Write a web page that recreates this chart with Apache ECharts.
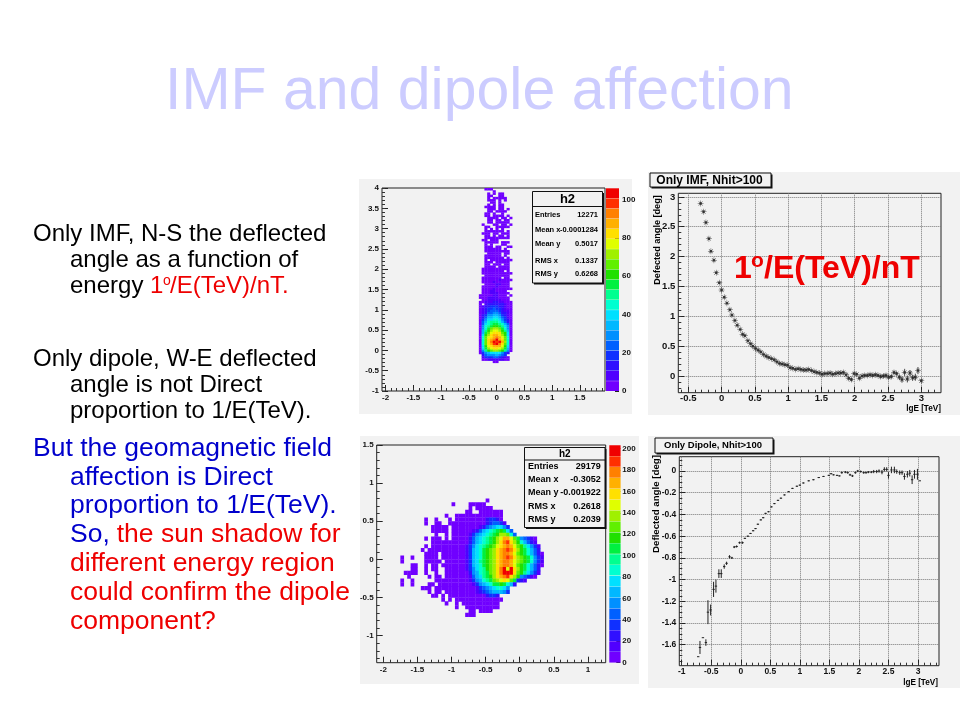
<!DOCTYPE html>
<html><head><meta charset="utf-8">
<style>html,body{margin:0;padding:0;background:#fff}#c{width:960px;height:720px}</style>
<script src="https://cdn.jsdelivr.net/npm/echarts@6/dist/echarts.min.js"></script>
</head><body><div id="c"></div>
<script>
// ---------- data ----------
const palette = ['#7000ff','#5000ff','#3010ff','#1030ff','#0060ff','#0090ff','#00b8ff','#00e0ff','#00ffd0','#00ff90',
                 '#00f040','#20e000','#60f000','#a0f000','#e0ff00','#ffe000','#ffb000','#ff8000','#ff3000','#f00000'];
// colour-level rows, top to bottom: '.' = empty, 0-9,a-j = level 0..19
const imfMapRows = [
"..000.......",".....0......","...0.0.00...","...00..00...","...0.00000..","...000.0.0..","....00.0....","...0.0.00...",
"..0000.00...","...000.00.0.","...00.0000..","..00.0..0...","..00.0000.0.","...0000.00.0","...00.00.00.","...00.00000.",
".0...00.00.0","..00..00000.","..0.0.0.0...","..0000000.0.",".000.00.000.","..00.0.00.0.","..000000000.",".00.000.....",
"..00000.000.","..0.0...00..","..000.00..00","..000000.0..","..000000000.","...00000.00.","..000000.0..","..0000000.0.",
"..0.00000000","..000.00000.","..00.000.00.","..0000.0000.",".0000000000.",".00000000.0.",".00000000000","..000000000.",
".0000000.00.",".00000010000",".0000100000.","..000011000.",".0000010000.",".00001000000",".000110000..",".0001110000.",
"0000011000.0","00011110000.",".0011111000.","001112211000","0.1222222100","012233322100","012334332100",
"012344432110","012445542210","023556653210","024667764310","035778875320","046899986420","04789aa98640",
"0589abba9750","058acddca850","069bdeedb960","06acefffcb70","07bdfggfdb70","08cefghgec80","08cfghjgfc80",
"08cfhjijgd80","08cfgijhfc80","07befgggeb70","07adeffeda60","059bcddcb950",
"03567777532.",".245556543..",".1333443210.",".0011111100.",".....00....."
];
const imfMapFirstRowTop = 4.0, imfMapLeft = -0.32, imfMapBinX = 0.05, imfMapBinY = 0.0545;

const dipoleMapRows = [
".........................0",
"...............0....00000",
"....................0.00000",
"...................00..0000000",
".............0..00000000000000",
".......0..0...0.00000000023320",
".......0..00..00000000000234431",
".........00000.00000000124567753",
".........00000.000000124678 9ab a74".replace(/ /g,''),
"..........0..0.00000135678 9abddc84".replace(/ /g,''),
".......0.000.0.00000246789ab" + "deggeca5 43 10".replace(/ /g,''),
".........00000000000246789ab" + "dfhifdb86421",
".......0.0000000000135789abc" + "efghgecb97531",
"......0.0000000000013678abcd" + "fghihfdba8642",
".......0000.000000013678abcd" + "fghhgecba86420",
"0..0...0000.000000013678abcd" + "fghihfdcba8531",
"0......00000.00000013679abcd" + "fghhgedcba8531",
"...00..0.00.000000013678abcd" + "fghhgecba86420",
"...00..0.00..00000013578 9bcd".replace(' ','') + "fhjejfdba8642",
".0000..0..0..00000002568 9acd".replace(' ','') + "fhjjjfcb97531",
"..0.....0.00.00000001467 9abd".replace(' ','') + "fghifdb54310",
"0..0......000000000013568 9acd".replace(' ','') + "efeca321",
"0..0....00.000000000013567 8aaba862".replace(' ',''),
"......000.000000000000134567887 5".replace(' ',''),
"........0.00.000000000123456665 3".replace(' ',''),
".........00.0.000000000002332",
"............0.0.00000000000000",
".............0..0.00000000000",
"................0..0000000000",
"....................00.0000",
"...................000"
];
const dipoleMapFirstRowTop = 0.8, dipoleMapLeft = -1.75, dipoleMapBin = 0.05;

const imfE = [-.315,-.27,-.235,-.19,-.16,-.115,-.08,-.035,0,.04,.08,.125,.155,.2,.235,.28,.315,.35,.395,.435,.47,.51,.55,.59,.63,.67,.71,.75,.79,.83,.87,.91,.95,.99,1.03,1.07,1.11,1.15,1.19,1.23,1.27,1.31,1.35,1.39,1.43,1.47,1.51,1.55,1.59,1.63,1.67,1.71,1.75,1.79,1.83,1.87,1.91,1.95,1.99,2.03,2.07,2.11,2.15,2.19,2.23,2.27,2.31,2.35,2.39,2.43,2.47,2.51,2.55,2.59,2.63,2.67,2.71,2.75,2.79,2.83,2.87,2.91,2.95,3.0];
const imfAngle = [2.89,2.75,2.57,2.30,2.09,1.94,1.73,1.56,1.44,1.32,1.22,1.11,1.02,.93,.85,.78,.70,.675,.59,.54,.50,.46,.43,.40,.36,.33,.31,.29,.27,.24,.21,.20,.19,.18,.14,.13,.11,.12,.11,.10,.10,.11,.09,.07,.06,.05,.03,.04,.04,.05,.03,.04,.05,.05,.06,.02,-.04,-.06,.04,.03,-.04,0,.01,.01,.02,.01,.02,.01,-.01,0,.01,-.02,-.01,.06,.04,-.02,-.06,.06,-.05,.05,-.03,-.02,.09,-.08];
const imfErr = [.02,.02,.02,.02,.02,.02,.02,.02,.02,.02,.01,.01,.01,.01,.01,.01,.01,.01,.01,.01,.01,.01,.01,.01,.01,.01,.01,.01,.01,.01,.01,.01,.01,.01,.01,.01,.01,.01,.01,.01,.01,.01,.01,.01,.01,.01,.01,.01,.01,.01,.01,.01,.01,.015,.015,.015,.02,.03,.02,.02,.02,.02,.02,.02,.02,.02,.02,.02,.03,.03,.03,.03,.03,.03,.03,.04,.05,.06,.06,.05,.05,.06,.06,.03];

const dipE = [-.72,-.69,-.64,-.59,-.555,-.51,-.46,-.42,-.37,-.33,-.28,-.24,-.19,-.15,-.11,-.07,-.02,.03,.07,.12,.165,.21,.25,.29,.34,.38,.42,.47,.52,.57,.63,.68,.74,.81,.875,.95,1.0,1.06,1.15,1.23,1.32,1.40,1.49,1.53,1.57,1.63,1.67,1.71,1.77,1.81,1.85,1.89,1.94,1.98,2.03,2.08,2.12,2.16,2.21,2.25,2.30,2.34,2.39,2.43,2.47,2.50,2.55,2.60,2.64,2.69,2.73,2.77,2.82,2.86,2.90,2.94,2.99,3.03];
const dipAngle = [-1.71,-1.625,-1.535,-1.58,-1.30,-1.28,-1.09,-1.06,-.945,-.945,-.88,-.85,-.79,-.80,-.70,-.695,-.66,-.66,-.62,-.60,-.575,-.55,-.53,-.49,-.45,-.43,-.39,-.375,-.33,-.30,-.27,-.25,-.22,-.19,-.16,-.14,-.13,-.11,-.09,-.08,-.06,-.05,-.04,-.025,-.035,-.04,-.045,-.015,-.01,-.015,-.035,-.045,-.015,0,-.005,-.015,-.015,-.01,-.01,-.005,-.005,0,-.01,.015,.015,-.04,.01,.01,-.005,-.015,-.015,-.05,-.03,-.02,-.08,-.03,-.03,-.09];
const dipErr = [0,.06,0,.03,.11,.05,.07,.06,.04,.04,.02,.015,.015,.01,.01,.01,.01,.01,.005,.005,.005,.005,.005,.005,.005,.005,.005,.005,.005,.005,.005,.005,.005,.005,.005,.005,.005,.005,.005,.005,.005,.005,.005,.005,.005,.005,.005,.01,.01,.01,.01,.01,.01,.01,.01,.01,.01,.01,.01,.015,.015,.015,.02,.02,.02,.03,.03,.03,.02,.02,.02,.03,.03,.03,.04,.04,.05,0];

const barATicks = [0,20,40,60,80,100], barAMax = 106;
const barCTicks = [0,20,40,60,80,100,120,140,160,180,200], barCMax = 203.4;
const statsA = [['Entries','12271'],['Mean x','-0.0001284'],['Mean y','0.5017'],['RMS x','0.1337'],['RMS y','0.6268']];
const statsC = [['Entries','29179'],['Mean x','-0.3052'],['Mean y','-0.001922'],['RMS x','0.2618'],['RMS y','0.2039']];
const ticksAx = [-2,-1.5,-1,-.5,0,.5,1,1.5], ticksAy = [-1,-.5,0,.5,1,1.5,2,2.5,3,3.5,4];
const ticksBx = [-.5,0,.5,1,1.5,2,2.5,3], ticksBy = [0,.5,1,1.5,2,2.5,3];
const ticksCx = [-2,-1.5,-1,-.5,0,.5,1], ticksCy = [-1,-.5,0,.5,1,1.5];
const ticksDx = [-1,-.5,0,.5,1,1.5,2,2.5,3], ticksDy = [-1.6,-1.4,-1.2,-1,-.8,-.6,-.4,-.2,0];

// ---------- helpers ----------
const FF = '"Liberation Sans", Arial, sans-serif';
function rowsToCells(rows, top, left, bx, by){
  const out=[];
  rows.forEach((r,ri)=>{ for(let i=0;i<r.length;i++){ if(r[i]==='.')continue;
    const lv=parseInt(r[i],20);
    out.push([left+i*bx, top-ri*by, left+(i+1)*bx, top-(ri+1)*by, lv]); } });
  return out;
}
function minors(lo,hi,step){const o=[];for(let v=Math.ceil(lo/step);v*step<=hi;v++)o.push(+(v*step).toFixed(4));return o;}
const grids=[],xAxes=[],yAxes=[],series=[];
function addGrid(box){
  grids.push({left:box.l,top:box.t,width:box.r-box.l,height:box.b-box.t,show:true,backgroundColor:'transparent',borderColor:'#222',borderWidth:1,containLabel:false});
  return grids.length-1;
}
function addAxes(g,a){
  const lab=(fs,m)=>({fontFamily:FF,fontWeight:'bold',fontSize:fs,color:'#111',margin:m});
  const xi=xAxes.length, yi=yAxes.length;
  xAxes.push({gridIndex:g,type:'value',position:'bottom',min:a.x[0],max:a.x[1],
    axisLine:{show:false,onZero:false},
    axisTick:{show:true,inside:true,length:a.tickX||6,customValues:a.xt,lineStyle:{color:'#222'}},
    axisLabel:Object.assign(lab(a.fs,a.mx),{customValues:a.xt,showMinLabel:true,showMaxLabel:true,hideOverlap:false}),
    splitLine:{show:!!a.grid,lineStyle:{color:'#777',type:'dotted',width:1}}});
  yAxes.push({gridIndex:g,type:'value',position:'left',min:a.y[0],max:a.y[1],
    axisLine:{show:false,onZero:false},
    axisTick:{show:true,inside:true,length:a.tickY||6,customValues:a.yt,lineStyle:{color:'#222'}},
    axisLabel:Object.assign(lab(a.fs,a.my),{customValues:a.yt,showMinLabel:true,showMaxLabel:true,hideOverlap:false}),
    splitLine:{show:!!a.grid,lineStyle:{color:'#777',type:'dotted',width:1}}});
  xAxes.push({gridIndex:g,type:'value',position:'bottom',min:a.x[0],max:a.x[1],axisLine:{show:false,onZero:false},
    axisTick:{show:true,inside:true,length:3,customValues:minors(a.x[0],a.x[1],a.mxs),lineStyle:{color:'#333'}},axisLabel:{show:false},splitLine:{show:false}});
  yAxes.push({gridIndex:g,type:'value',position:'left',min:a.y[0],max:a.y[1],axisLine:{show:false,onZero:false},
    axisTick:{show:true,inside:true,length:3,customValues:minors(a.y[0],a.y[1],a.mys),lineStyle:{color:'#333'}},axisLabel:{show:false},splitLine:{show:false}});
  return [xi,yi];
}
function rectSeries(xi,yi,cells){
  series.push({type:'custom',xAxisIndex:xi,yAxisIndex:yi,silent:true,animation:false,z:3,clip:true,
    encode:{x:[0,2],y:[1,3]},data:cells,
    renderItem(p,api){
      const a=api.coord([api.value(0),api.value(1)]), b=api.coord([api.value(2),api.value(3)]);
      return {type:'rect',shape:{x:a[0],y:a[1],width:b[0]-a[0]+.3,height:b[1]-a[1]+.3},style:{fill:palette[api.value(4)]}};
    }});
}
function colorBar(box,max,ticks,fs,m){
  const g=addGrid(box); grids[g].borderWidth=0;
  const xi=xAxes.length, yi=yAxes.length;
  xAxes.push({gridIndex:g,type:'value',min:0,max:1,show:false});
  yAxes.push({gridIndex:g,type:'value',position:'right',min:0,max:max,
    axisLine:{show:false,onZero:false},
    axisTick:{show:true,inside:true,length:4,customValues:ticks,lineStyle:{color:'#222'}},
    axisLabel:{customValues:ticks,fontFamily:FF,fontWeight:'bold',fontSize:fs,color:'#111',margin:m,showMinLabel:true,showMaxLabel:true,hideOverlap:false},
    splitLine:{show:false}});
  const cells=palette.map((c,i)=>[0,i*max/20,1,(i+1)*max/20,i]);
  rectSeries(xi,yi,cells);
}
function errSeries(xi,yi,xs,ys,es,hw,col){
  series.push({type:'custom',xAxisIndex:xi,yAxisIndex:yi,silent:true,animation:false,z:4,
    encode:{x:0,y:1},data:xs.map((x,i)=>[x,ys[i],es[i]]),
    renderItem(p,api){
      const x=api.value(0),y=api.value(1),e=api.value(2);
      const c=api.coord([x,y]),u=api.coord([x,y+e]),d=api.coord([x,y-e]),l=api.coord([x-hw,y]),r=api.coord([x+hw,y]);
      const st={stroke:col,lineWidth:1};
      return {type:'group',children:[
        {type:'line',shape:{x1:l[0],y1:c[1],x2:r[0],y2:c[1]},style:st},
        {type:'line',shape:{x1:c[0],y1:u[1],x2:c[0],y2:d[1]},style:st}]};
    }});
}
const gfx=[];
function T(x,y,text,o){o=o||{};gfx.push({type:'text',x,y,z:o.z||60,rotation:o.rot||0,silent:true,
  style:{text,fill:o.c||'#000',fontFamily:FF,fontSize:o.s||20,fontWeight:o.w||'normal',align:o.a||'left',verticalAlign:o.v||'middle'}});}
function R(x,y,w,h,o){gfx.push({type:'rect',z:o.z,silent:true,shape:{x,y,width:w,height:h},style:{fill:o.f||'none',stroke:o.st||null,lineWidth:o.lw||1}});}
function panel(x,y,w,h){R(x,y,w,h,{f:'#f2f2f2',z:-5});}
function boxShadow(x,y,w,h){R(x+1.5,y+1.5,w,h,{f:'#111',z:50});R(x,y,w,h,{f:'#f2f2f2',st:'#111',z:51});}
function stats(x,y,w,h,titleH,rows,rowsY,lx,rx,fs,ts){
  boxShadow(x,y,w,h);
  gfx.push({type:'line',z:52,silent:true,shape:{x1:x,y1:y+titleH,x2:x+w,y2:y+titleH},style:{stroke:'#111',lineWidth:1}});
  T(x+w/2,y+titleH/2+.5,'h2',{s:ts,w:'bold',a:'center',z:53});
  rows.forEach((r,i)=>{T(lx,rowsY[i],r[0],{s:fs,w:'bold',z:53});T(rx,rowsY[i],r[1],{s:fs,w:'bold',a:'right',z:53});});
}

// ---------- panels ----------
panel(359,179,273,235); panel(648,172,312,243); panel(360,436,279,248); panel(648,436,312,252);

// A: IMF map
let g=addGrid({l:382,r:605,t:188,b:391});
let ax=addAxes(g,{x:[-2.065,1.953],y:[-1,4],xt:ticksAx,yt:ticksAy,mxs:.1,mys:.1,fs:8,mx:3,my:3,tickX:6,tickY:6});
rectSeries(ax[0],ax[1],rowsToCells(imfMapRows,imfMapFirstRowTop,imfMapLeft,imfMapBinX,imfMapBinY));
colorBar({l:606,r:619,t:188,b:391},barAMax,barATicks,8,3);
stats(532.5,191.5,70,91.5,15,statsA,[215,230,244,261,274],535,598,7.5,13);

// C: dipole map
g=addGrid({l:376.7,r:605.7,t:445,b:662.7});
ax=addAxes(g,{x:[-2.097,1.26],y:[-1.354,1.5],xt:ticksCx,yt:ticksCy,mxs:.1,mys:.1,fs:8,mx:3,my:3});
rectSeries(ax[0],ax[1],rowsToCells(dipoleMapRows,dipoleMapFirstRowTop,dipoleMapLeft,dipoleMapBin,dipoleMapBin));
colorBar({l:609.3,r:620.3,t:445,b:662.7},barCMax,barCTicks,8,2);
stats(524.5,447.5,80.5,80,12.5,statsC,[466.7,480,492.7,506.7,519.3],528,600.7,9,10);

// B: IMF only curve
g=addGrid({l:678.3,r:941,t:193.3,b:392.7});
ax=addAxes(g,{x:[-.65,3.296],y:[-.28,3.06],xt:ticksBx,yt:ticksBy,mxs:.1,mys:.1,fs:9.5,mx:1,my:3,grid:true,tickX:6,tickY:6});
errSeries(ax[0],ax[1],imfE,imfAngle,imfErr,.015,'#666');
series.push({type:'scatter',xAxisIndex:ax[0],yAxisIndex:ax[1],animation:false,silent:true,z:5,
  symbol:'path://M11 0h2v24h-2zM0 11h24v2H0zM3.2 4.6l1.4-1.4 16.2 16.2-1.4 1.4zM19.4 3.2l1.4 1.4L4.6 20.8l-1.4-1.4zM7 7h10v10H7z',
  symbolSize:6,itemStyle:{color:'#222'},data:imfE.map((x,i)=>[x,imfAngle[i]])});

// D: dipole only curve
g=addGrid({l:679.3,r:939,t:456.7,b:665.7});
ax=addAxes(g,{x:[-1.04,3.355],y:[-1.793,.132],xt:ticksDx,yt:ticksDy,mxs:.1,mys:.05,fs:8.5,mx:1,my:3,grid:true});
errSeries(ax[0],ax[1],dipE,dipAngle,dipErr,.02,'#222');

// title boxes and axis titles
boxShadow(650,173,121,14); T(709.5,180.5,'Only IMF, Nhit>100',{s:12,w:'bold',a:'center',z:53});
boxShadow(655,438,118,15); T(713,445.5,'Only Dipole, Nhit>100',{s:9.5,w:'bold',a:'center',z:53});
T(657,240,'Defected angle [deg]',{s:9.1,w:'bold',a:'center',rot:Math.PI/2});
T(941,409,'lgE [TeV]',{s:8.2,w:'bold',a:'right'});
T(656,504,'Deflected angle [deg]',{s:9.7,w:'bold',a:'center',rot:Math.PI/2});
T(938,683,'lgE [TeV]',{s:8.2,w:'bold',a:'right'});
// big formula
T(734,269,'1',{s:32,w:'bold',c:'#ee0000',z:70});
T(751,261,'o',{s:21,w:'bold',c:'#ee0000',z:70});
T(764,269,'/E(TeV)/nT',{s:32,w:'bold',c:'#ee0000',z:70});

// slide text
T(165,93,'IMF and dipole affection',{s:59,c:'#ccccff'});
const BLK='#000', RED='#ee0000', BLU='#0000cc';
T(33,234,'Only IMF, N-S the deflected',{s:24,c:BLK});
T(70,260,'angle as a function of',{s:24,c:BLK});
T(70,286,'energy',{s:24,c:BLK});
T(150,286,'1',{s:24,c:RED}); T(163,281,'o',{s:14,c:RED}); T(170,286,'/E(TeV)/nT.',{s:24,c:RED});
T(33,359,'Only dipole, W-E deflected',{s:24,c:BLK});
T(70,385,'angle is not Direct',{s:24,c:BLK});
T(70,411,'proportion to 1/E(TeV).',{s:24,c:BLK});
T(33,449,'But the geomagnetic field',{s:26.5,c:BLU});
T(70,478,'affection is Direct',{s:26.5,c:BLU});
T(70,506,'proportion to 1/E(TeV).',{s:26.5,c:BLU});
T(70,535,'So,',{s:26.5,c:BLU});
T(116.7,535,'the sun shadow for',{s:26.5,c:RED});
T(70,564,'different energy region',{s:26.5,c:RED});
T(70,593,'could confirm the dipole',{s:26.5,c:RED});
T(70,622,'component?',{s:26.5,c:RED});

const chart=echarts.init(document.getElementById('c'),null,{renderer:'canvas',width:960,height:720});
chart.setOption({animation:false,backgroundColor:'#ffffff',grid:grids,xAxis:xAxes,yAxis:yAxes,series,graphic:{elements:gfx}});
</script></body></html>
